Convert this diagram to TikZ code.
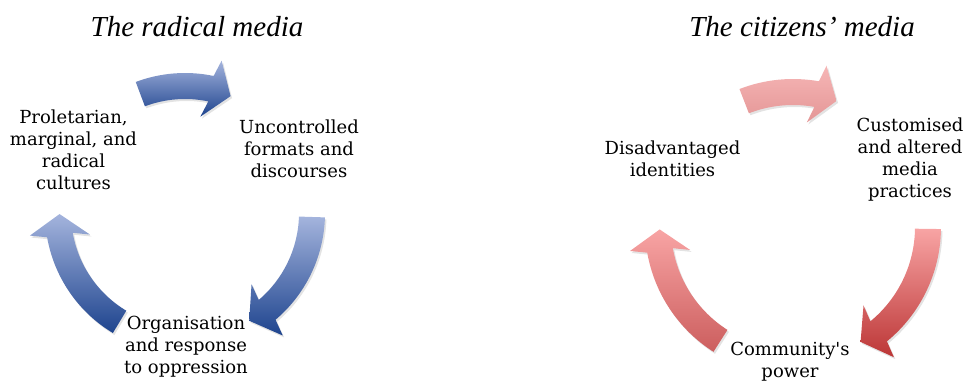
\documentclass[tikz,border=0pt]{standalone}
\usepackage{fontspec}
\setmainfont{DejaVu Serif}[Ligatures=TeXOff]
\newfontfamily\titlefont{Liberation Serif}
\usetikzlibrary{calc,shadows}

\definecolor{bluelight}{RGB}{164,180,221}
\definecolor{bluedark}{RGB}{30,68,142}
\definecolor{pinktop}{RGB}{246,182,182}
\definecolor{pinkbottom}{RGB}{228,150,150}
\definecolor{redtop}{RGB}{248,164,164}
\definecolor{redbottom}{RGB}{188,54,54}
\definecolor{roselow}{RGB}{204,94,94}

\tikzset{
  cyclearrow/.style={drop shadow={opacity=0.22,shadow xshift=1.5pt,shadow yshift=-2pt}},
  steptext/.style={font=\fontsize{18}{22}\selectfont, align=center, anchor=base, inner sep=0pt},
  titletext/.style={font=\titlefont\itshape\fontsize{29}{34}\selectfont, anchor=base, inner sep=0pt}
}

% style, radius, tail angle, head angle
\newcommand{\cycarrow}[4]{%
  \path[#1] (#3:#2+13) arc[start angle=#3, end angle=#4, radius=#2+13]
    -- ($(#4:#2)+(#4-9:30)$) -- ($(#4:#2)+(#4-99:21)$) -- ($(#4:#2)+(#4-9:-30)$)
    -- (#4:#2-13) arc[start angle=#4, end angle=#3, radius=#2-13] -- cycle;}

\begin{document}
\begin{tikzpicture}[x=1pt,y=1pt]
\useasboundingbox (0,0) rectangle (966,385);

\begin{scope}[shift={(185,172)}]
\cycarrow{cyclearrow,top color=bluelight,bottom color=bluedark}{127}{110.6}{78.2}
\cycarrow{cyclearrow,top color=bluelight,bottom color=bluedark}{127}{-1.8}{-49.7}
\cycarrow{cyclearrow,top color=bluelight,bottom color=bluedark}{127}{239}{190}
\end{scope}

\begin{scope}[shift={(793,158)}]
\cycarrow{cyclearrow,top color=pinktop,bottom color=pinkbottom}{135}{111.2}{79.9}
\cycarrow{cyclearrow,top color=redtop,bottom color=redbottom}{135}{-0.8}{-50.6}
\cycarrow{cyclearrow,top color=redtop,bottom color=roselow}{135}{237.5}{190}
\end{scope}

\node[titletext] (radtitle) at (197,348.3) {The radical media};
\node[steptext] (prolet) at (73.5,195.7) {Proletarian,\\marginal, and\\radical\\cultures};
\node[steptext] (uncontrol) at (299,207.7) {Uncontrolled\\formats and\\discourses};
\node[steptext] (organis) at (186,11) {Organisation\\and response\\to oppression};

\node[titletext] (cittitle) at (802,348.3) {The citizens’ media};
\node[steptext] (disadv) at (672.5,208) {Disadvantaged\\identities};
\node[steptext] (custom) at (910,187.3) {Customised\\and altered\\media\\practices};
\node[steptext] (commun) at (790,7) {Community's\\power};
\end{tikzpicture}
\end{document}
